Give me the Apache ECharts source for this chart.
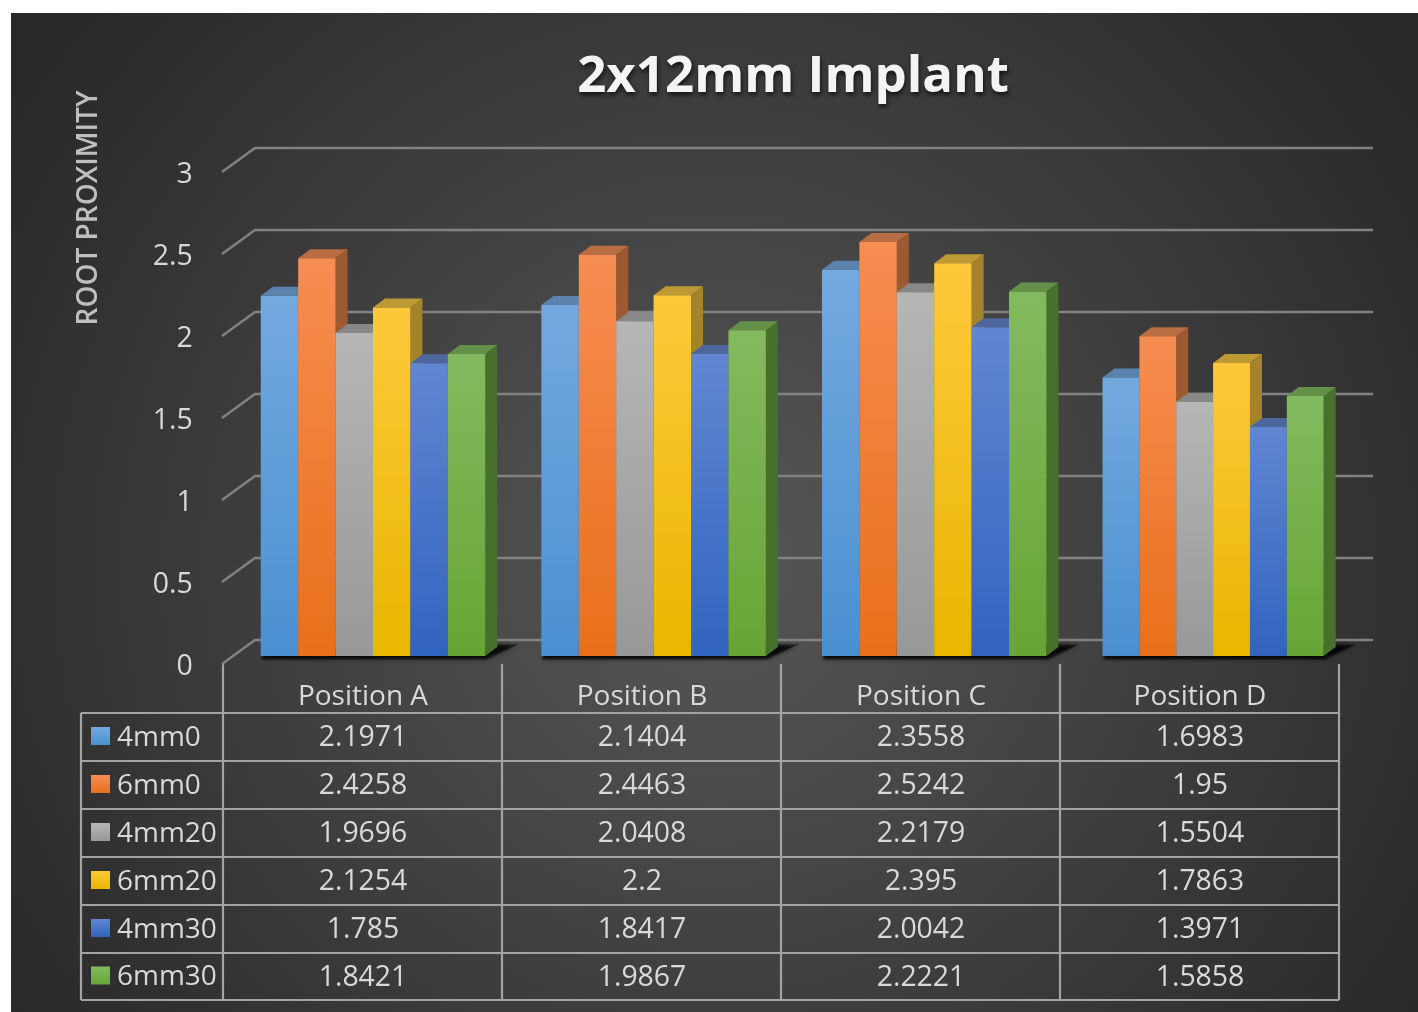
<!DOCTYPE html>
<html>
<head>
<meta charset="utf-8">
<title>2x12mm Implant</title>
<script src="https://cdn.jsdelivr.net/npm/echarts@6/dist/echarts.min.js"></script>
<style>
  html, body { margin: 0; padding: 0; background: #fff; }
  #chart { width: 1418px; height: 1012px; }
</style>
</head>
<body>
<div id="chart"></div>
<script>
var categories = ["Position A", "Position B", "Position C", "Position D"];
var seriesNames = ["4mm0", "6mm0", "4mm20", "6mm20", "4mm30", "6mm30"];
var values4mm0 = [2.1971, 2.1404, 2.3558, 1.6983];
var values6mm0 = [2.4258, 2.4463, 2.5242, 1.95];
var values4mm20 = [1.9696, 2.0408, 2.2179, 1.5504];
var values6mm20 = [2.1254, 2.2, 2.395, 1.7863];
var values4mm30 = [1.785, 1.8417, 2.0042, 1.3971];
var values6mm30 = [1.8421, 1.9867, 2.2221, 1.5858];
var allValues = [values4mm0, values6mm0, values4mm20, values6mm20, values4mm30, values6mm30];
var yTicks = [0, 0.5, 1, 1.5, 2, 2.5, 3];

// front top / front bottom / top face / side face
var barColors = [
    ["#74a9df", "#4a90d1", "#5a82ad", "#3f6e9f"],
    ["#f68d52", "#e96f1a", "#b86d42", "#9c5a30"],
    ["#b6b6b6", "#989898", "#888888", "#6c6c6c"],
    ["#ffc83c", "#e9b600", "#bd9a33", "#a4832a"],
    ["#6186d2", "#3164bf", "#4d669c", "#2f4d86"],
    ["#84ba5f", "#66a534", "#64914a", "#47702c"]
];

var depthX = 12, depthY = 9;
var labelDrop = 3;    // tick labels sit 3px under the front end of their wall line
var baseLift = 8 + labelDrop;     // bars stand a little behind the front edge of the floor
var wallX = 33, wallY = 24;
var groupFill = [0.8, 0.8, 0.8, 0.788];   // last group is drawn a bit narrower in the original

function gradient(top, bottom) {
    return new echarts.graphic.LinearGradient(0, 0, 0, 1, [
        { offset: 0, color: top },
        { offset: 1, color: bottom }
    ]);
}

function renderBar(seriesIdx) {
    return function(params, api) {
        var cat = api.value(0);
        var band = api.size([1, 0])[0];
        var w = band * groupFill[cat] / 6;
        var top = api.coord([cat, api.value(1)]);
        var bottom = api.coord([cat, 0]);
        var x0 = top[0] - band * 0.4 + seriesIdx * w;
        var x1 = x0 + w;
        var y0 = top[1] - baseLift;
        var y1 = bottom[1] - baseLift;
        var c = barColors[seriesIdx];
        return {
            type: "group",
            children: [
                {
                    type: "polygon",
                    shape: { points: [[x1, y0], [x1 + depthX, y0 - depthY], [x1 + depthX, y1 - depthY], [x1, y1]] },
                    style: { fill: c[3] }
                },
                {
                    type: "polygon",
                    shape: { points: [[x0, y0], [x0 + depthX, y0 - depthY], [x1 + depthX, y0 - depthY], [x1, y0]] },
                    style: { fill: c[2] }
                },
                {
                    type: "rect",
                    shape: { x: x0, y: y0, width: w, height: y1 - y0 },
                    style: { fill: gradient(c[0], c[1]) }
                }
            ]
        };
    };
}

function renderWallLine(params, api) {
    var p = api.coord([0, api.value(1)]);
    var sys = params.coordSys;
    var fx = sys.x - 10.7;
    var y = p[1] - labelDrop;
    return {
        type: "polyline",
        shape: { points: [[fx, y], [fx + wallX, y - wallY], [sys.x + sys.width + 18, y - wallY]] },
        style: { stroke: "#828282", lineWidth: 2.4, fill: null }
    };
}

// soft floor shadow: a few nested translucent shapes
function renderFloorShadow(params, api) {
    var p = api.coord([api.value(0), 0]);
    var band = api.size([1, 0])[0];
    var w = band * groupFill[api.value(0)];
    var x0 = p[0] - band * 0.4;
    var x1 = x0 + w;
    var y = p[1] - baseLift;
    var children = [];
    for (var k = 0; k < 4; k++) {
        children.push({
            type: "polygon",
            shape: { points: [[x0, y + 4 - k], [x1 + 2 - k, y + 4 - k], [x1 + 34 - 3 * k, y - 12 + k], [x0 + 16, y - 12 + k]] },
            style: { fill: "rgba(0,0,0,0.3)", shadowBlur: 5, shadowColor: "rgba(0,0,0,0.5)" }
        });
    }
    return { type: "group", children: children };
}

// data table under the plot
var tableCols = [81, 223, 502, 781, 1060, 1339];
var tableRows = [713, 761, 809, 857, 905, 953, 1000];
var tableTop = 664;
var tableText = "#d9d9d9";
var tableFont = "Open Sans";

function tableGraphics() {
    var els = [];
    var lineStyle = { stroke: "#a3a3a3", lineWidth: 2.2 };
    tableRows.forEach(function(y) {
        els.push({ type: "line", shape: { x1: tableCols[0], y1: y, x2: tableCols[5], y2: y }, style: lineStyle });
    });
    tableCols.forEach(function(x, i) {
        els.push({ type: "line", shape: { x1: x, y1: i === 0 ? tableRows[0] : tableTop, x2: x, y2: tableRows[6] }, style: lineStyle });
    });
    function cell(text, x, y, align, size) {
        els.push({
            type: "text", x: x, y: y,
            style: { text: text, fill: tableText, font: size + "px '" + tableFont + "'", textAlign: align, textVerticalAlign: "middle" }
        });
    }
    categories.forEach(function(name, i) {
        cell(name, (tableCols[i + 1] + tableCols[i + 2]) / 2 + 0.5, 697, "center", 28);
    });
    seriesNames.forEach(function(name, r) {
        var cy = (tableRows[r] + tableRows[r + 1]) / 2;
        els.push({
            type: "rect",
            shape: { x: 91, y: cy - 10, width: 19, height: 18 },
            style: { fill: gradient(barColors[r][0], barColors[r][1]) }
        });
        cell(name, 117, cy + 1, "left", 28);
        allValues[r].forEach(function(v, c) {
            cell(String(v), (tableCols[c + 1] + tableCols[c + 2]) / 2 + 0.5, cy + 1, "center", 28.4);
        });
    });
    return els;
}

var series = [
    {
        type: "custom", name: "wall", z: 1, silent: true, clip: false,
        renderItem: renderWallLine,
        data: yTicks.map(function(v) { return [0, v]; })
    },
    {
        type: "custom", name: "floor", z: 2, silent: true, clip: false,
        renderItem: renderFloorShadow,
        data: categories.map(function(c, i) { return [i, 0]; })
    }
];
seriesNames.forEach(function(name, s) {
    series.push({
        type: "custom", name: name, z: 3 + s, clip: false,
        renderItem: renderBar(s),
        data: allValues[s].map(function(v, i) { return [i, v]; })
    });
});

var chart = echarts.init(document.getElementById("chart"));
chart.setOption({
    animation: false,
    backgroundColor: "#ffffff",
    title: {
        text: "2x12mm Implant",
        left: 788, top: 47, textAlign: "center",
        textStyle: {
            fontFamily: "Open Sans", fontWeight: "bold", fontSize: 51, color: "#f4f4f4",
            textShadowColor: "rgba(0,0,0,0.7)", textShadowBlur: 5, textShadowOffsetX: 1, textShadowOffsetY: 3
        }
    },
    grid: { left: 232.7, width: 1122.4, top: 172 + labelDrop, height: 492 },
    xAxis: { type: "category", data: categories, show: false },
    yAxis: {
        type: "value", min: 0, max: 3, interval: 0.5,
        axisLine: { show: false }, axisTick: { show: false }, splitLine: { show: false },
        axisLabel: { margin: 40, color: "#d9d9d9", fontFamily: "Open Sans", fontSize: 28.4 }
    },
    graphic: {
        elements: [
            {
                type: "rect", z: -100,
                shape: { x: 11, y: 13, width: 1407, height: 999 },
                style: {
                    fill: new echarts.graphic.RadialGradient(0.5, 0.55, 0.85, [
                        { offset: 0, color: "#575757" },
                        { offset: 1, color: "#282828" }
                    ])
                }
            },
            {
                type: "text", x: 89, y: 208, rotation: Math.PI / 2,
                style: {
                    text: "ROOT PROXIMITY", fill: "#bfbfbf", font: "600 28px 'Open Sans'",
                    textAlign: "center", textVerticalAlign: "middle"
                }
            }
        ].concat(tableGraphics())
    },
    series: series
});
</script>
</body>
</html>
